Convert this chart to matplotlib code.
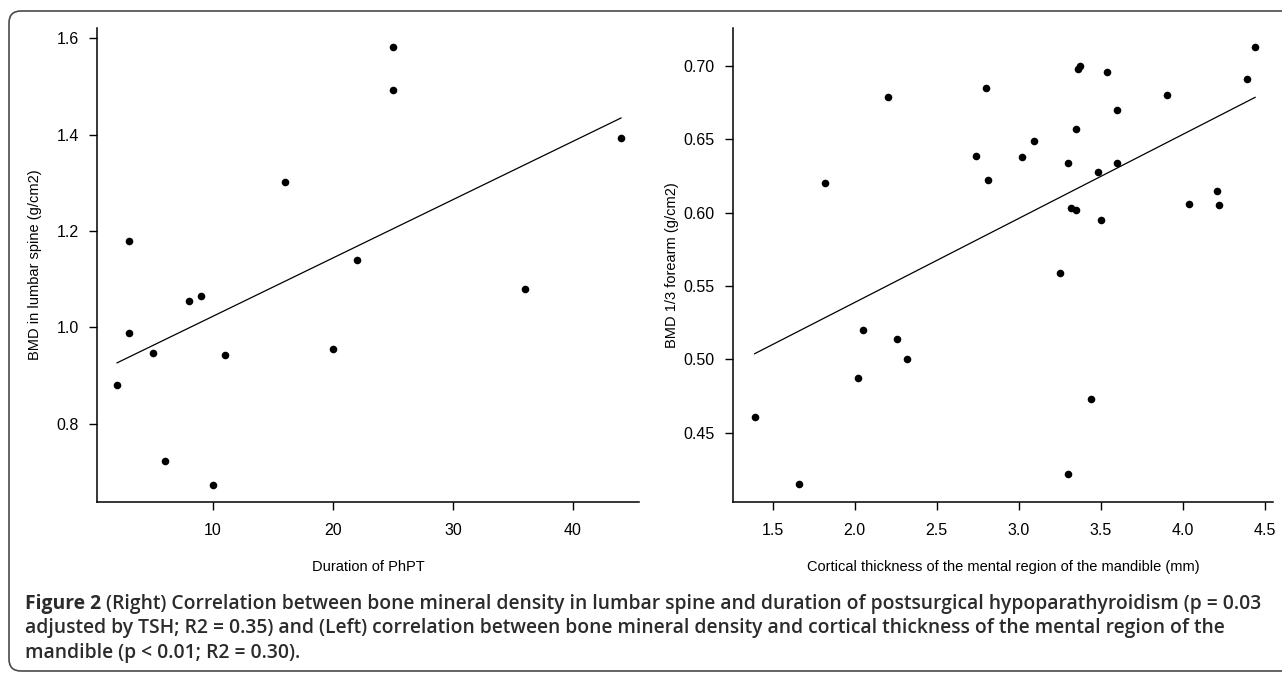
import numpy as np
import matplotlib
matplotlib.use('Agg')
from matplotlib import pyplot as plt
from matplotlib import patches
from matplotlib.transforms import IdentityTransform

# 左图: PhPT 持续时间 vs 腰椎 BMD
duration = [3, 8, 9, 16, 3, 2, 5, 11, 6, 10, 25, 25, 44, 22, 36, 20]
bmd_spine = [1.180, 1.055, 1.065, 1.302, 0.988, 0.881, 0.948, 0.942,
             0.724, 0.673, 1.582, 1.493, 1.392, 1.140, 1.080, 0.955]

# 右图: 皮质厚度 vs 前臂 BMD
thickness = [1.39, 1.66, 1.82, 2.02, 2.05, 2.20, 2.26, 2.32, 2.74, 2.80, 2.81,
             3.02, 3.09, 3.25, 3.30, 3.30, 3.32, 3.35, 3.35, 3.36, 3.37, 3.44,
             3.48, 3.50, 3.54, 3.60, 3.60, 3.90, 4.04, 4.21, 4.22, 4.39, 4.44]
bmd_forearm = [0.461, 0.415, 0.620, 0.487, 0.520, 0.679, 0.514, 0.500, 0.639,
               0.685, 0.622, 0.638, 0.649, 0.559, 0.634, 0.422, 0.603, 0.602,
               0.657, 0.698, 0.700, 0.473, 0.628, 0.595, 0.696, 0.670, 0.634,
               0.680, 0.606, 0.615, 0.605, 0.691, 0.713]

left_yticks = [0.8, 1.0, 1.2, 1.4, 1.6]
left_xticks = [10, 20, 30, 40]
right_yticks = [0.45, 0.50, 0.55, 0.60, 0.65, 0.70]
right_xticks = [1.5, 2.0, 2.5, 3.0, 3.5, 4.0, 4.5]

caption_lines = [
    "(Right) Correlation between bone mineral density in lumbar spine and duration of postsurgical hypoparathyroidism (p = 0.03",
    "adjusted by TSH; R2 = 0.35) and (Left) correlation between bone mineral density and cortical thickness of the mental region of the",
    "mandible (p < 0.01; R2 = 0.30).",
]

W, H = 1282, 673
fig = plt.figure(figsize=(W / 100, H / 100), dpi=100)
fig.patch.set_facecolor('white')
plt.rcParams['font.family'] = ['Liberation Sans', 'DejaVu Sans']


def setup_axes(rect, x, y, xlim, ylim, xticks, yticks, xlabel, ylabel, yfmt, ylab_x):
    ax = fig.add_axes(rect)
    ax.scatter(x, y, s=30, color='black', zorder=3, linewidths=0)
    # 回归线
    k, b = np.polyfit(x, y, 1)
    xs = np.array([min(x), max(x)])
    ax.plot(xs, k * xs + b, color='black', lw=0.9)
    ax.set_xlim(*xlim)
    ax.set_ylim(*ylim)
    ax.set_xticks(xticks)
    ax.set_yticks(yticks)
    ax.set_yticklabels([yfmt.format(v) for v in yticks])
    for s in ['top', 'right']:
        ax.spines[s].set_visible(False)
    for s in ['left', 'bottom']:
        ax.spines[s].set_linewidth(1.1)
    ax.tick_params(axis='both', length=6, width=1.0, labelsize=11.5, color='black')
    ax.tick_params(axis='y', pad=7)
    ax.tick_params(axis='x', pad=9)
    ax.set_xlabel(xlabel, fontsize=10.5)
    ax.set_ylabel(ylabel, fontsize=10.5)
    ax.xaxis.set_label_coords(0.5, -0.137)
    ax.xaxis.label.set_va('center')
    ax.yaxis.set_label_coords(ylab_x, 0.5)
    ax.yaxis.label.set_va('center')
    return ax


top_y, bot_y = 28, 502
fy0 = 1 - bot_y / H
fh = (bot_y - top_y) / H

setup_axes([97 / W, fy0, (639 - 97) / W, fh], duration, bmd_spine,
           (0.33, 45.5), (0.638, 1.621), left_xticks, left_yticks,
           'Duration of PhPT', 'BMD in lumbar spine (g/cm2)', '{:.1f}', -0.114)

setup_axes([733 / W, fy0, (1273 - 733) / W, fh], thickness, bmd_forearm,
           (1.258, 4.549), (0.4027, 0.726), right_xticks, right_yticks,
           'Cortical thickness of the mental region of the mandible (mm)',
           'BMD 1/3 forearm (g/cm2)', '{:.2f}', -0.113)

# 外框 (圆角)
frame = patches.FancyBboxPatch((9, 2), 1320, 660,
                               boxstyle='round,pad=0,rounding_size=12',
                               transform=IdentityTransform(), fill=False,
                               edgecolor='#4a4a4a', lw=1.2)
fig.add_artist(frame)

# 图注
cap_color = '#2b2b2b'
cap_font = ['Open Sans', 'DejaVu Sans']
renderer = fig.canvas.get_renderer()
x0 = 25
ys = [H - 604, H - 628.5, H - 653]


def draw_caption(fs):
    arts = []
    t = fig.text(x0, ys[0], "Figure 2", fontsize=fs, family=cap_font, weight='bold',
                 color=cap_color, va='center', transform=IdentityTransform())
    arts.append(t)
    bb = t.get_window_extent(renderer)
    sw = 0.26 * fs * 100 / 72
    t1 = fig.text(bb.x1 + sw, ys[0], caption_lines[0], fontsize=fs, family=cap_font,
                  weight='semibold', color=cap_color, va='center',
                  transform=IdentityTransform())
    arts.append(t1)
    for line, yy in zip(caption_lines[1:], ys[1:]):
        arts.append(fig.text(x0, yy, line, fontsize=fs, family=cap_font,
                             weight='semibold', color=cap_color, va='center',
                             transform=IdentityTransform()))
    return arts, t1.get_window_extent(renderer).x1


# 先量宽度再调整字号, 使第一行结束位置与原图一致
fs = 11.0
for _ in range(4):
    arts, x_end = draw_caption(fs)
    for a in arts:
        a.remove()
    fs = fs * (1266 - x0) / (x_end - x0)
draw_caption(fs)

fig.savefig('out.png', dpi=100)
